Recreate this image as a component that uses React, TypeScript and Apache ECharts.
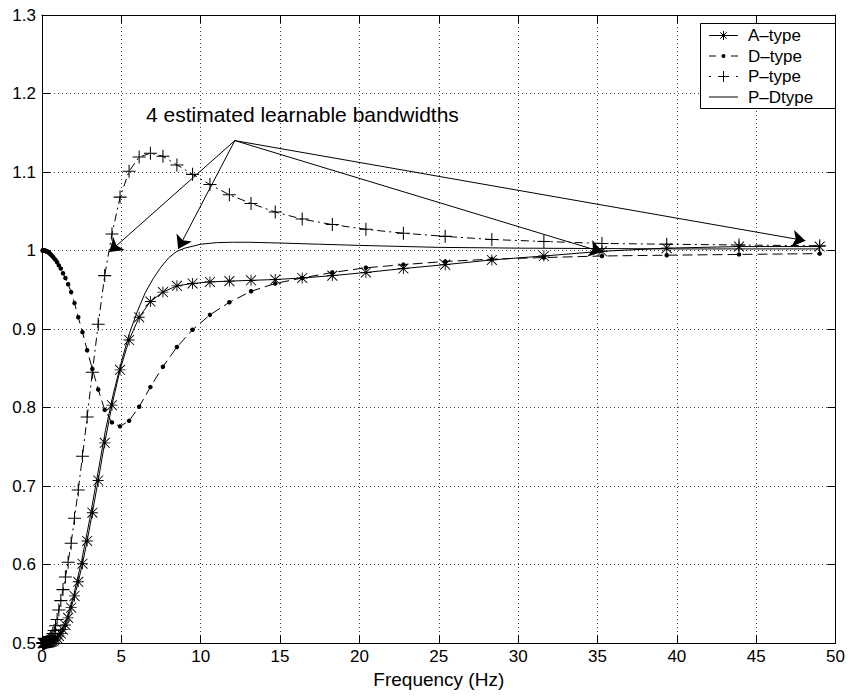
import React, { useEffect, useRef } from 'react';
import * as echarts from 'echarts';

// Frequency grid (Hz) shared by the marked series
const freq = [0.049, 0.055, 0.061, 0.069, 0.076, 0.085, 0.095, 0.106, 0.119, 0.132, 0.148, 0.165, 0.184, 0.205, 0.229, 0.256, 0.285, 0.318, 0.355, 0.396, 0.442, 0.494,
  0.551, 0.614, 0.685, 0.765, 0.853, 0.952, 1.062, 1.185, 1.322, 1.475, 1.646, 1.836, 2.048, 2.285, 2.55, 2.845, 3.174, 3.541, 3.951, 4.408, 4.918, 5.487,
  6.121, 6.83, 7.62, 8.501, 9.485, 10.582, 11.806, 13.172, 14.696, 16.396, 18.293, 20.409, 22.77, 25.405, 28.344, 31.623, 35.282, 39.364, 43.918, 49.0];

const aType = [0.5, 0.5, 0.5, 0.5, 0.5, 0.5, 0.5, 0.5, 0.5, 0.5, 0.5, 0.5, 0.5001, 0.5001, 0.5002, 0.5002, 0.5003, 0.5004, 0.5006, 0.5007, 0.5009, 0.501,
  0.5015, 0.502, 0.5025, 0.5035, 0.505, 0.5065, 0.509, 0.512, 0.517, 0.523, 0.532, 0.545, 0.56, 0.578, 0.601, 0.63, 0.666, 0.707, 0.755, 0.803, 0.848, 0.886,
  0.915, 0.935, 0.947, 0.955, 0.958, 0.96, 0.961, 0.962, 0.963, 0.965, 0.968, 0.972, 0.977, 0.982, 0.988, 0.993, 0.999, 1.003, 1.005, 1.005];

const dType = [1.0, 1.0, 1.0, 1.0, 1.0, 1.0, 1.0, 1.0, 1.0, 1.0, 1.0, 0.9998, 0.9997, 0.9996, 0.9994, 0.9992, 0.999, 0.9987, 0.9983, 0.9978, 0.997, 0.996,
  0.995, 0.9935, 0.992, 0.99, 0.988, 0.985, 0.981, 0.977, 0.971, 0.965, 0.957, 0.947, 0.933, 0.915, 0.896, 0.873, 0.849, 0.823, 0.797, 0.781, 0.776, 0.783,
  0.801, 0.826, 0.852, 0.877, 0.899, 0.918, 0.934, 0.948, 0.958, 0.965, 0.972, 0.978, 0.982, 0.986, 0.989, 0.991, 0.993, 0.994, 0.995, 0.996];

const pType = [0.5, 0.5, 0.5, 0.5, 0.5, 0.5, 0.5, 0.5, 0.5, 0.5, 0.5, 0.5, 0.5003, 0.5004, 0.5005, 0.5007, 0.501, 0.5015, 0.502, 0.503, 0.504, 0.505,
  0.507, 0.509, 0.512, 0.516, 0.522, 0.53, 0.542, 0.554, 0.568, 0.584, 0.603, 0.627, 0.659, 0.695, 0.738, 0.788, 0.845, 0.906, 0.968, 1.021, 1.068, 1.101,
  1.119, 1.124, 1.12, 1.109, 1.097, 1.084, 1.071, 1.06, 1.049, 1.04, 1.033, 1.027, 1.022, 1.018, 1.014, 1.0115, 1.009, 1.008, 1.007, 1.006];

// P-Dtype is drawn as a plain line
const pdFreq = [0, 0.5, 1.0, 1.5, 2.0, 2.5, 3.0, 3.5, 4.0, 4.5, 5.0, 5.5, 6.0, 6.5, 7.0, 7.5, 8.0, 8.5, 9.0, 10, 11, 12, 13, 15, 17.5, 20, 25, 30, 35, 40, 45, 49];
const pdType = [0.5, 0.5015, 0.509, 0.527, 0.561, 0.605, 0.657, 0.714, 0.771, 0.818, 0.858, 0.894, 0.922, 0.946, 0.964, 0.979, 0.991, 0.999, 1.003, 1.008, 1.01,
  1.0105, 1.0105, 1.0095, 1.008, 1.0065, 1.004, 1.003, 1.0025, 1.002, 1.002, 1.002];

const seriesNames = ['A\u2013type', 'D\u2013type', 'P\u2013type', 'P\u2013Dtype'];
const annotationText = '4 estimated learnable bandwidths';
const arrowOrigin = [12.15, 1.14];
const arrowTargets = [[4.24, 0.998], [8.58, 1.002], [35.3, 0.998], [48.1, 1.0125]];

const FONT = '"Liberation Sans", Arial, Helvetica, sans-serif';
const ASTERISK = 'path://M9.2 0H10.8V20H9.2Z M0 9.2H20V10.8H0Z M1.566 0.434L19.566 18.434L18.434 19.566L0.434 1.566Z M19.566 1.566L1.566 19.566L0.434 18.434L18.434 0.434Z';
const PLUS = 'path://M9.2 0H10.8V20H9.2Z M0 9.2H20V10.8H0Z';

const zip = (xs: number[], ys: number[]) => xs.map((x, i) => [x, ys[i]]);

// Hand-drawn legend box (MATLAB style)
function legendGraphics() {
  const boxX = 700.5, boxY = 23.5, boxW = 135, boxH = 85;
  const x1 = 709, x2 = 738, xc = (x1 + x2) / 2, textX = 748;
  const rows = [35.5, 56, 76.5, 97];
  const els: any[] = [
    { type: 'rect', z: 100, shape: { x: boxX, y: boxY, width: boxW, height: boxH }, style: { fill: '#fff', stroke: '#000', lineWidth: 1 } },
  ];
  const line = (y: number, dash: number[] | null) => ({
    type: 'line', z: 101, shape: { x1, y1: y, x2, y2: y },
    style: { stroke: '#000', lineWidth: 1, lineDash: dash || undefined },
  });
  const seg = (ax: number, ay: number, bx: number, by: number) => ({
    type: 'line', z: 102, shape: { x1: ax, y1: ay, x2: bx, y2: by }, style: { stroke: '#000', lineWidth: 1 },
  });
  // A-type: solid + asterisk
  els.push(line(rows[0], null));
  const r = 4.5, d = 3.2;
  els.push(seg(xc, rows[0] - r, xc, rows[0] + r));
  els.push(seg(xc - d, rows[0] - d, xc + d, rows[0] + d));
  els.push(seg(xc + d, rows[0] - d, xc - d, rows[0] + d));
  // D-type: dashed + dot
  els.push(line(rows[1], [7, 15, 7]));
  els.push({ type: 'circle', z: 102, shape: { cx: xc, cy: rows[1], r: 2 }, style: { fill: '#000' } });
  // P-type: dash-dot + plus
  els.push(line(rows[2], [2, 25, 2]));
  els.push(seg(xc - 5.5, rows[2], xc + 5.5, rows[2]));
  els.push(seg(xc, rows[2] - 5.5, xc, rows[2] + 5.5));
  // P-Dtype: solid
  els.push(line(rows[3], null));
  seriesNames.forEach((n, i) => {
    els.push({
      type: 'text', z: 102, x: textX, y: rows[i],
      style: { text: n, fontSize: 17, fontFamily: FONT, fill: '#000', verticalAlign: 'middle', align: 'left' },
    });
  });
  return els;
}

export default function App() {
  const ref = useRef<HTMLDivElement>(null);
  useEffect(() => {
    const chart = echarts.init(ref.current!, null, { renderer: 'svg' });
    const axisCommon = {
      axisLine: { show: true, onZero: false, lineStyle: { color: '#000', width: 1 } },
      axisTick: { show: true, inside: true, length: 8, lineStyle: { color: '#000', width: 1 } },
    };
    const option: any = {
      animation: false,
      backgroundColor: '#fff',
      textStyle: { fontFamily: FONT },
      grid: { left: 42, right: 12, top: 15, bottom: 55, containLabel: false },
      xAxis: [
        {
          type: 'value', min: 0, max: 50, interval: 5, position: 'bottom',
          ...axisCommon,
          axisLabel: { color: '#000', fontSize: 17, margin: 5, fontFamily: FONT },
          splitLine: { show: true, lineStyle: { color: '#000', width: 1, type: [1, 3], opacity: 0.75 } },
          name: 'Frequency (Hz)', nameLocation: 'middle', nameGap: 27,
          nameTextStyle: { color: '#000', fontSize: 19, fontFamily: FONT },
        },
        {
          type: 'value', min: 0, max: 50, interval: 5, position: 'top',
          ...axisCommon,
          axisLabel: { show: false },
          splitLine: { show: false },
        },
      ],
      yAxis: [
        {
          type: 'value', min: 0.5, max: 1.3, interval: 0.1, position: 'left',
          ...axisCommon,
          axisLabel: {
            color: '#000', fontSize: 17, margin: 6, fontFamily: FONT,
            formatter: (v: number) => (Math.abs(v - 1) < 1e-9 ? '1' : v.toFixed(1)),
          },
          splitLine: { show: true, lineStyle: { color: '#000', width: 1, type: [1, 3], opacity: 0.75 } },
        },
        {
          type: 'value', min: 0.5, max: 1.3, interval: 0.1, position: 'right',
          ...axisCommon,
          axisLabel: { show: false },
          splitLine: { show: false },
        },
      ],
      graphic: [
        {
          type: 'text', left: 146, top: 104, z: 10,
          style: { text: annotationText, fontSize: 21, fontFamily: FONT, fill: '#000' },
        },
        ...legendGraphics(),
      ],
      series: [
        {
          name: seriesNames[0], type: 'line', data: zip(freq, aType),
          symbol: ASTERISK, symbolSize: 11,
          lineStyle: { color: '#000', width: 1, type: 'solid' },
          itemStyle: { color: '#000', borderWidth: 0 },
        },
        {
          name: seriesNames[1], type: 'line', data: zip(freq, dType),
          symbol: 'circle', symbolSize: 4.5,
          lineStyle: { color: '#000', width: 1, type: [10, 5] },
          itemStyle: { color: '#000', borderWidth: 0 },
        },
        {
          name: seriesNames[2], type: 'line', data: zip(freq, pType),
          symbol: PLUS, symbolSize: 13,
          lineStyle: { color: '#000', width: 1, type: [8, 4, 2, 4] },
          itemStyle: { color: '#000', borderWidth: 0 },
        },
        {
          name: seriesNames[3], type: 'line', data: zip(pdFreq, pdType),
          symbol: 'none', showSymbol: false,
          lineStyle: { color: '#000', width: 1, type: 'solid' },
          itemStyle: { color: '#000' },
        },
        {
          name: 'arrows', type: 'line', data: [],
          markLine: {
            silent: true, symbol: ['none', 'arrow'], symbolSize: 13,
            label: { show: false },
            lineStyle: { color: '#000', width: 1, type: 'solid' },
            itemStyle: { color: '#000' },
            data: arrowTargets.map((t) => [{ coord: arrowOrigin }, { coord: t }]),
          },
        },
      ],
    };
    chart.setOption(option);
    return () => chart.dispose();
  }, []);
  return <div ref={ref} style={{ position: 'fixed', left: 0, top: 0, width: 848, height: 698 }} />;
}
